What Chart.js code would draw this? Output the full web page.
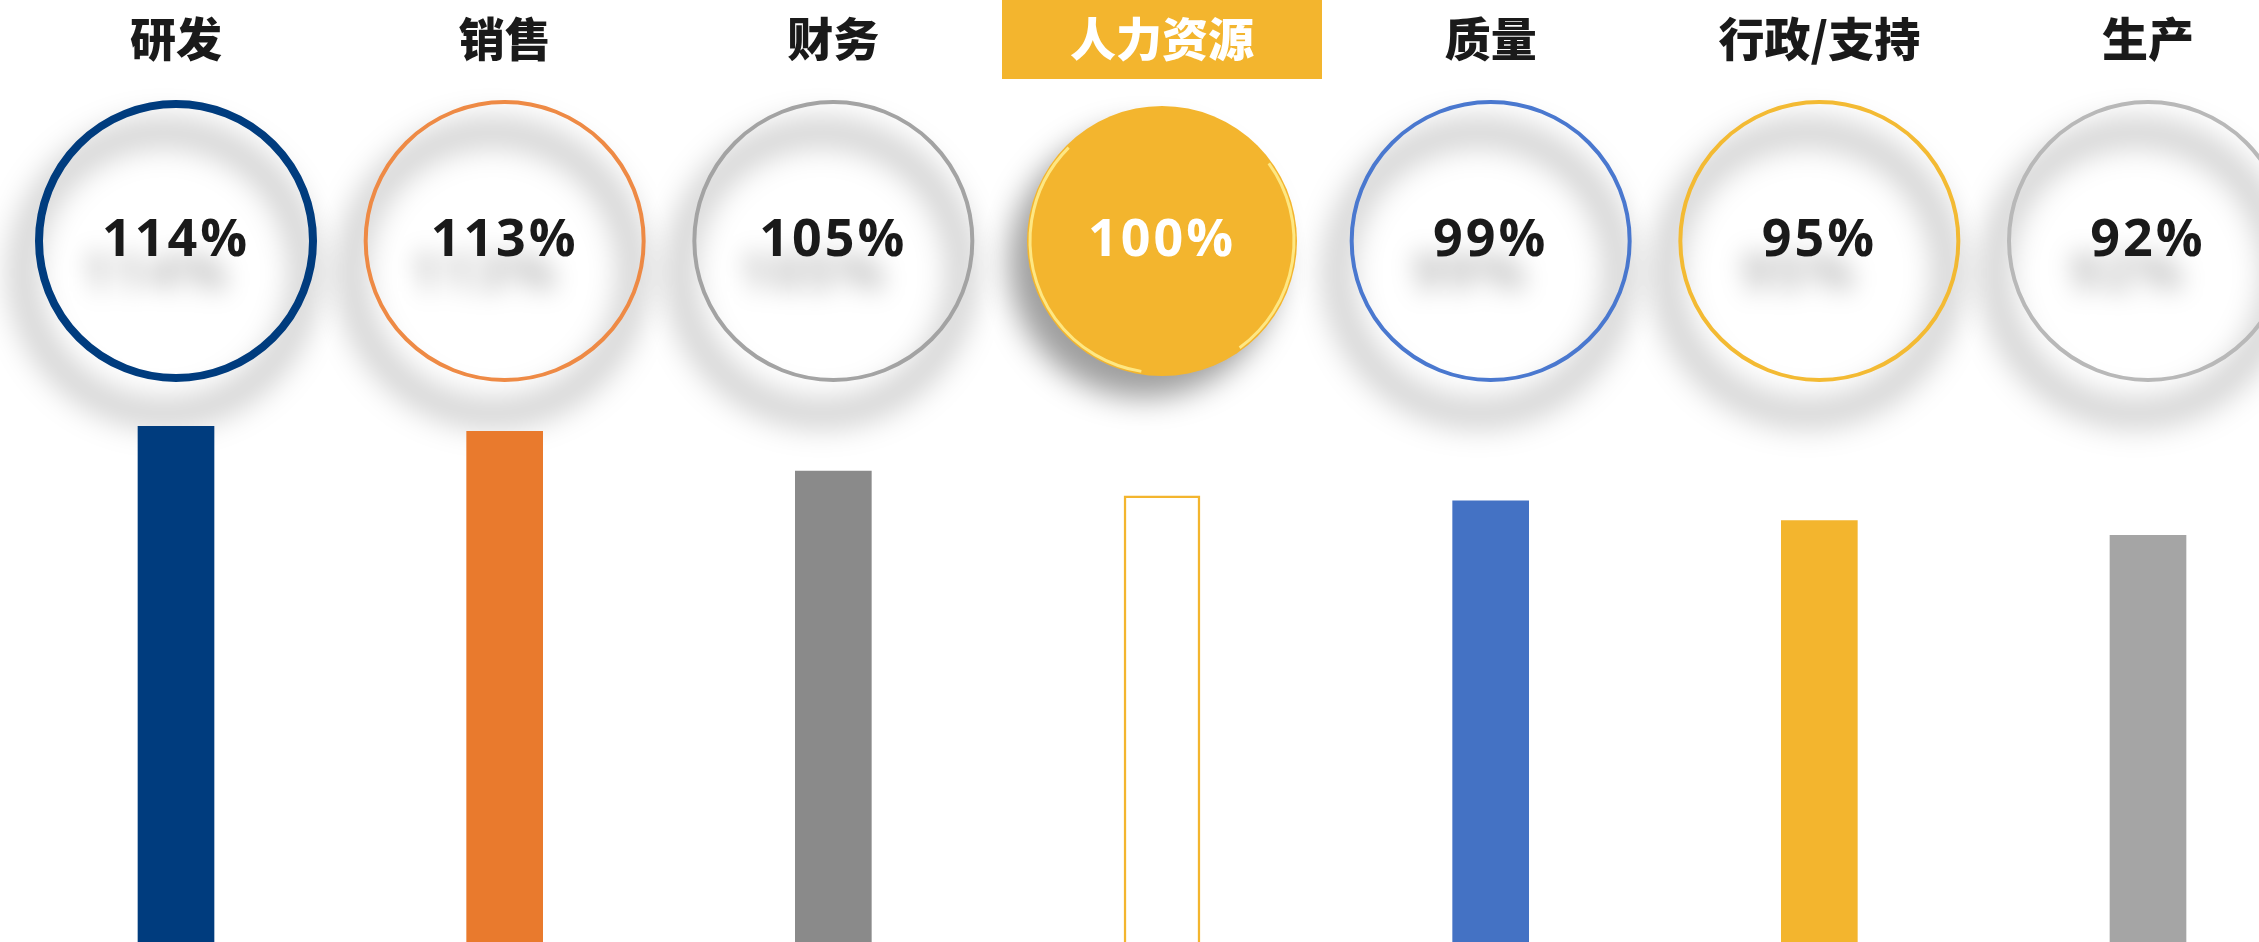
<!DOCTYPE html>
<html>
<head>
<meta charset="utf-8">
<script src="https://cdn.jsdelivr.net/npm/chart.js@4.4.1/dist/chart.umd.min.js"></script>
<style>
  html, body { margin: 0; padding: 0; background: #fff; overflow: hidden; }
  #wrap { position: relative; width: 2259px; height: 942px; }
</style>
</head>
<body>
<div id="wrap"><canvas id="deptChart"></canvas></div>
<script>
// Data
const categories = ["研发", "销售", "财务", "人力资源", "质量", "行政/支持", "生产"];
const values = [114, 113, 105, 100, 99, 95, 92];
const valueLabels = ["114%", "113%", "105%", "100%", "99%", "95%", "92%"];
const highlightCategory = "人力资源";

// Styles
const gold = "#F3B52E";
const barColors = ["#003C7E", "#E97A2D", "#8A8A8A", "#FFFFFF", "#4472C4", "#F3B52E", "#A5A5A5"];
const barBorders = ["#003C7E", "#E97A2D", "#8A8A8A", "#F3B52E", "#4472C4", "#F3B52E", "#A5A5A5"];
const ringColors = ["#003C7E", "#EE8A45", "#A3A3A3", gold, "#4A78CF", "#F3BA33", "#B8B8B8"];
const ringWidths = [8, 4, 4, 0, 4, 4, 4];

// Circles + headers drawn at each category position
const circlePlugin = {
  id: "circles",
  beforeDatasetsDraw(chart) {
    const { ctx } = chart;
    const xScale = chart.scales.x;
    const cy = 241;
    const r = 141;

    categories.forEach((cat, i) => {
      const cx = xScale.getPixelForValue(i);
      const hl = cat === highlightCategory;
      ctx.save();

      if (hl) {
        ctx.shadowColor = "rgba(0,0,0,0.38)";
        ctx.shadowBlur = 30;
        ctx.shadowOffsetX = -18;
        ctx.shadowOffsetY = 22;
        ctx.beginPath();
        ctx.arc(cx, cy, r - 6, 0, Math.PI * 2);
        ctx.fillStyle = gold;
        ctx.fill();
        ctx.shadowColor = "transparent";
        // glossy rim
        ctx.lineWidth = 3;
        ctx.strokeStyle = "rgba(255,236,140,0.9)";
        ctx.beginPath();
        ctx.arc(cx, cy, r - 9, Math.PI * 0.55, Math.PI * 1.25);
        ctx.stroke();
        ctx.beginPath();
        ctx.arc(cx, cy, r - 9, -Math.PI * 0.2, Math.PI * 0.3);
        ctx.stroke();
      } else {
        // soft ring shadow
        ctx.filter = "blur(15px)";
        ctx.strokeStyle = "rgba(0,0,0,0.2)";
        ctx.lineWidth = 26;
        ctx.beginPath();
        ctx.arc(cx - 12, cy + 32, r, 0, Math.PI * 2);
        ctx.stroke();
        ctx.filter = "none";

        ctx.strokeStyle = ringColors[i];
        ctx.lineWidth = ringWidths[i];
        ctx.beginPath();
        ctx.arc(cx, cy, r - ringWidths[i] / 2, 0, Math.PI * 2);
        ctx.stroke();
      }

      // value text
      ctx.font = 'bold 52px "Open Sans", "Liberation Sans", sans-serif';
      ctx.letterSpacing = "3px";
      ctx.textAlign = "center";
      ctx.textBaseline = "middle";
      if (!hl) {
        ctx.save();
        ctx.filter = "blur(12px)";
        ctx.fillStyle = "rgba(0,0,0,0.28)";
        ctx.fillText(valueLabels[i], cx - 20, cy + 34);
        ctx.restore();
      }
      ctx.fillStyle = hl ? "#FFFFFF" : "#1A1A1A";
      ctx.fillText(valueLabels[i], cx, cy);

      // header label
      ctx.letterSpacing = "0px";
      ctx.font = '900 46px "Noto Sans CJK SC", sans-serif';
      if (hl) {
        ctx.fillStyle = gold;
        ctx.fillRect(cx - 160, 0, 320, 79);
        ctx.fillStyle = "#FFFFFF";
      } else {
        ctx.fillStyle = "#1A1A1A";
      }
      ctx.fillText(cat, cx, 39);

      ctx.restore();
    });
  },
};

const ctx = document.getElementById("deptChart");
new Chart(ctx, {
  type: "bar",
  data: {
    labels: categories,
    datasets: [
      {
        data: values,
        backgroundColor: barColors,
        borderColor: barBorders,
        borderWidth: categories.map((c) => (c === highlightCategory ? 2.5 : 0)),
        borderSkipped: false,
        barThickness: 76,
        clip: false,
      },
    ],
  },
  options: {
    responsive: true,
    maintainAspectRatio: false,
    animation: false,
    layout: { padding: { left: 176, right: 111, top: 0, bottom: 0 } },
    plugins: {
      legend: { display: false },
      tooltip: { enabled: false },
    },
    scales: {
      x: { display: false, offset: false, grid: { display: false } },
      y: { display: false, min: 10, max: 200 },
    },
  },
  plugins: [circlePlugin],
});
</script>
</body>
</html>
